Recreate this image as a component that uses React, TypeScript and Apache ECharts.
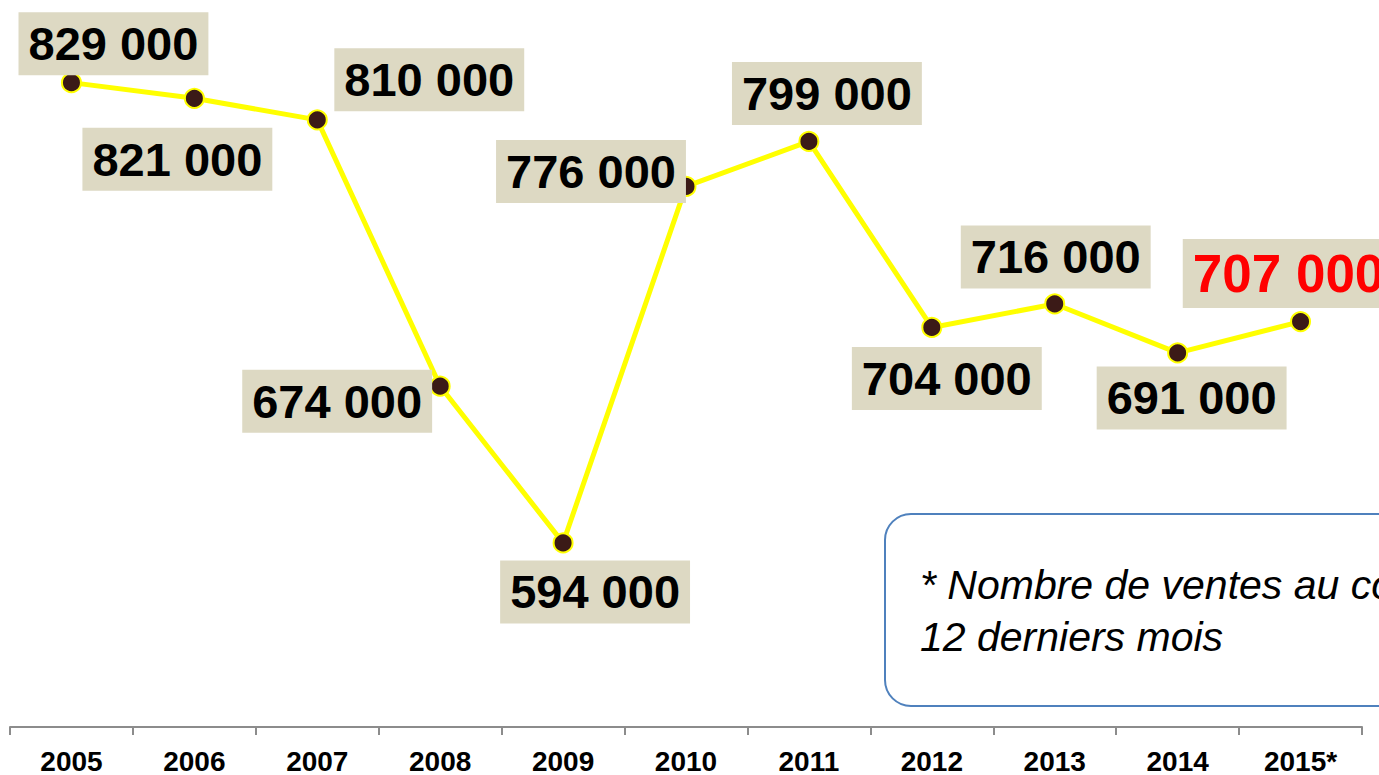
import React, { useEffect, useRef } from "react";
import * as echarts from "echarts";

const categories = ["2005", "2006", "2007", "2008", "2009", "2010", "2011", "2012", "2013", "2014", "2015*"];
const sales = [829000, 821000, 810000, 674000, 594000, 776000, 799000, 704000, 716000, 691000, 707000];
const noteLines = ["* Nombre de ventes au cours des", "12 derniers mois"];

// label offsets (px) from each point, styling only
const labelOffsets: [number, number][] = [
  [42, -39], [-17, 61], [112, -40], [-103, 15], [32, 49], [-95, -15],
  [18, -48], [15, 51], [1, -47], [14, 45], [-12, -48],
];

const FONT = "'Liberation Sans', Arial, Helvetica, sans-serif";

const fmt = (v: number) => String(v).replace(/\B(?=(\d{3})+(?!\d))/g, " ");

export default function App() {
  const ref = useRef<HTMLDivElement>(null);
  useEffect(() => {
    if (!ref.current) return;
    const chart = echarts.init(ref.current, null, { renderer: "svg" });
    const last = sales.length - 1;
    chart.setOption({
      animation: false,
      backgroundColor: "#ffffff",
      grid: { left: 10, right: 17, top: 41.5, bottom: 47, containLabel: false },
      xAxis: {
        type: "category",
        data: categories,
        boundaryGap: true,
        axisLine: { show: true, lineStyle: { color: "#8C8C8C", width: 2 } },
        axisTick: { show: true, length: 8, lineStyle: { color: "#8C8C8C", width: 2 } },
        axisLabel: {
          color: "#000",
          fontFamily: FONT,
          fontWeight: "bold",
          fontSize: 28,
          margin: 20,
        },
        splitLine: { show: false },
      },
      yAxis: {
        type: "value",
        min: 500000,
        max: 850000,
        show: false,
        splitLine: { show: false },
      },
      graphic: [
        {
          type: "rect",
          shape: { x: 885, y: 514, width: 640, height: 192, r: 26 },
          style: { fill: "#ffffff", stroke: "#4F81BD", lineWidth: 2 },
          z: 1,
        },
        {
          type: "text",
          x: 920,
          y: 585,
          style: {
            text: noteLines[0],
            font: `italic 41px ${FONT}`,
            fill: "#000",
            verticalAlign: "middle",
            align: "left",
          },
          z: 2,
        },
        {
          type: "text",
          x: 920,
          y: 637,
          style: {
            text: noteLines[1],
            font: `italic 41px ${FONT}`,
            fill: "#000",
            verticalAlign: "middle",
            align: "left",
          },
          z: 2,
        },
      ],
      series: [
        {
          type: "line",
          data: sales.map((v, i) => ({
            value: v,
            label: {
              offset: labelOffsets[i],
              ...(i === last
                ? { color: "#FF0000", fontSize: 53, lineHeight: 53 }
                : {}),
            },
          })),
          lineStyle: { color: "#FFFF00", width: 5 },
          symbol: "circle",
          symbolSize: 19,
          itemStyle: { color: "#3B1A17", borderColor: "#FFFF00", borderWidth: 2 },
          label: {
            show: true,
            position: "inside",
            formatter: (p: any) => fmt(p.value),
            color: "#000",
            fontFamily: FONT,
            fontWeight: "bold",
            fontSize: 47,
            lineHeight: 47,
            backgroundColor: "#DDD9C3",
            padding: [8, 10, 8, 10],
            align: "center",
            verticalAlign: "middle",
          },
          z: 3,
        },
      ],
    });
    return () => chart.dispose();
  }, []);
  return (
    <div
      ref={ref}
      style={{ position: "absolute", left: 0, top: 0, width: 1379, height: 775 }}
    />
  );
}
